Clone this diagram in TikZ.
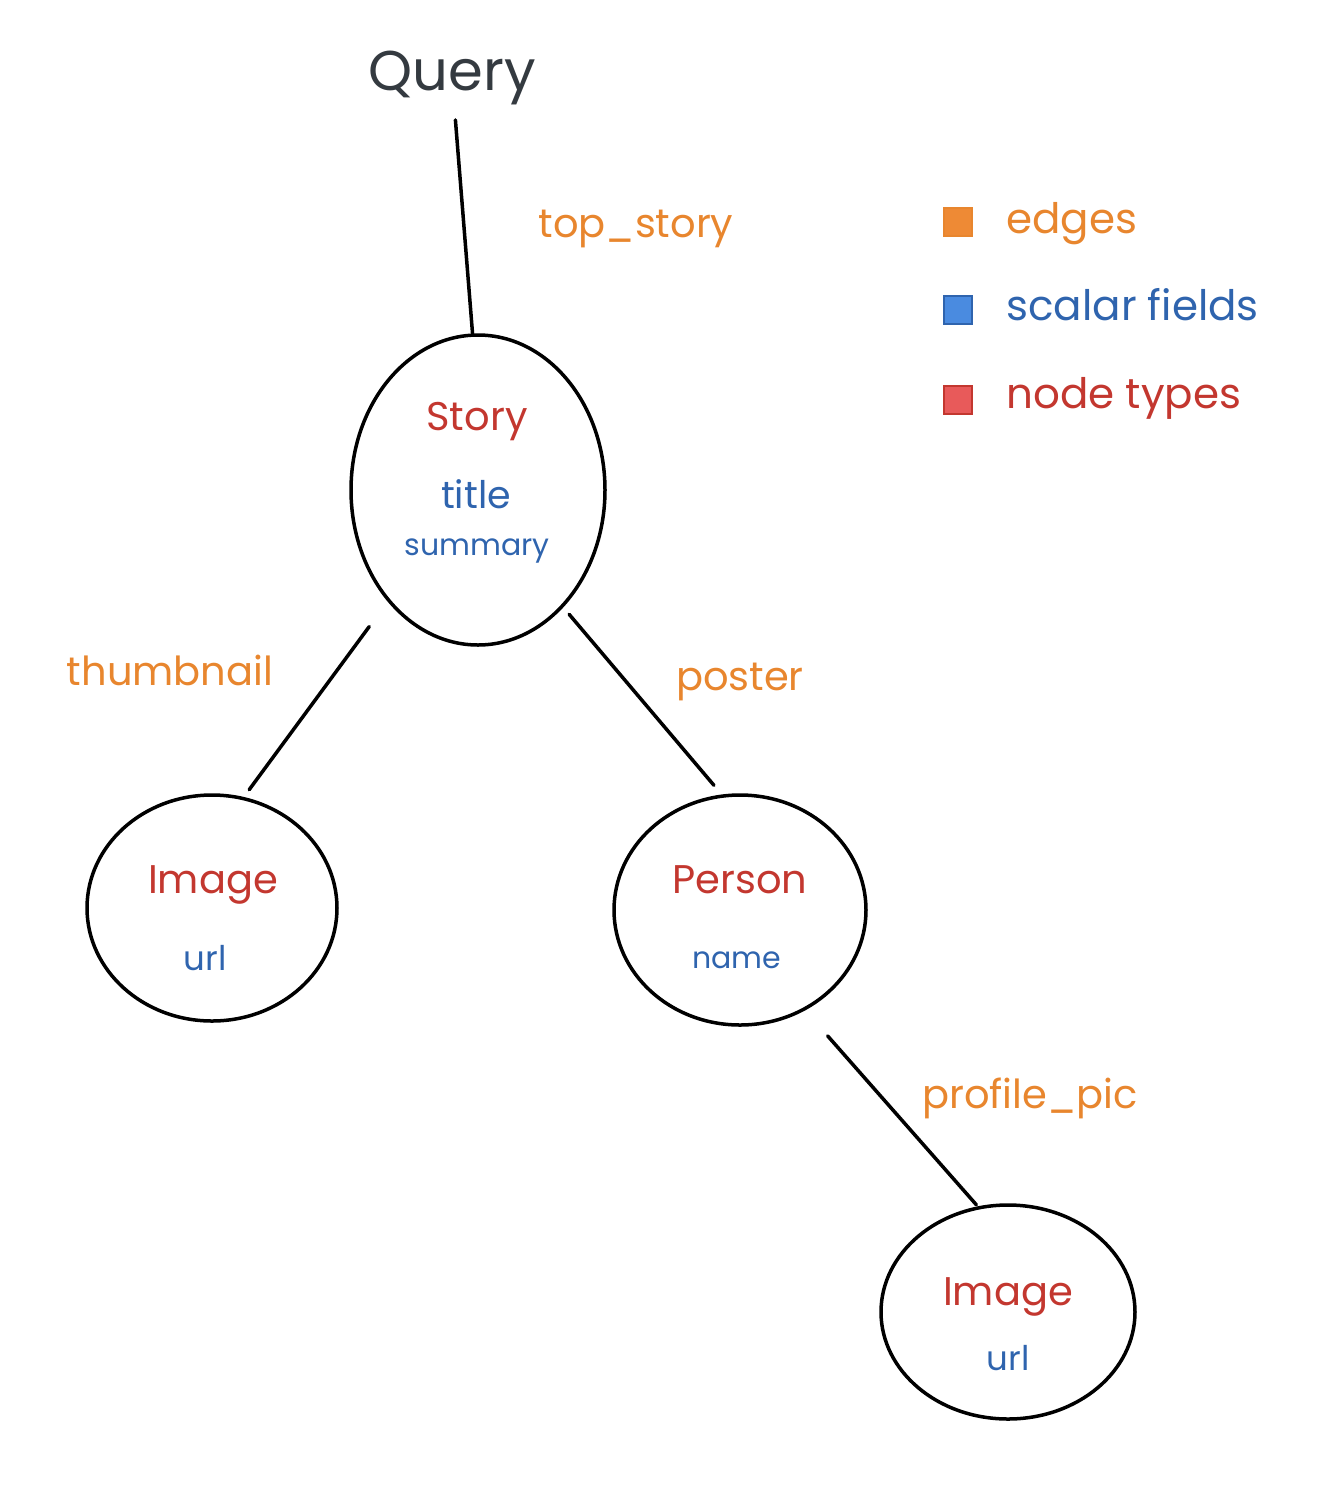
\documentclass[tikz,border=0pt]{standalone}
\usepackage{fontspec}
\setmainfont{Poppins}
\usetikzlibrary{shapes.geometric}
\definecolor{edgecol}{HTML}{E8862E}
\definecolor{fieldcol}{HTML}{2F64AE}
\definecolor{typecol}{HTML}{C3372F}
\definecolor{querycol}{HTML}{343A40}
\definecolor{edgefill}{HTML}{EE8A35}
\definecolor{fieldfill}{HTML}{4A8BE0}
\definecolor{typefill}{HTML}{E85A5A}
\begin{document}
\begin{tikzpicture}[x=1pt,y=-1pt,
  typenode/.style={draw=black,line width=3.5pt,ellipse,inner sep=0pt},
  edgeline/.style={line width=3.5pt,line cap=round},
  edgelabel/.style={anchor=base,text=edgecol,font=\fontsize{40}{48}\selectfont},
  typelabel/.style={anchor=base,text=typecol,font=\fontsize{40}{48}\selectfont},
  fieldlabel/.style={anchor=base,text=fieldcol,font=\fontsize{34}{40}\selectfont},
  legendbox/.style={minimum size=28pt,inner sep=0pt,line width=1.5pt},
  legendtext/.style={anchor=base west,font=\fontsize{42}{50}\selectfont}]
\useasboundingbox (0,0) rectangle (1340,1500);

\node[anchor=base,text=querycol,font=\fontsize{56}{64}\selectfont] (query) at (452,90) {Query};

\node[typenode,minimum width=254pt,minimum height=310pt] (story) at (478,490) {};
\node[typelabel] (storytype) at (477,430) {Story};
\node[fieldlabel,font=\fontsize{38}{44}\selectfont] (storytitle) at (476,508) {title};
\node[fieldlabel,font=\fontsize{30}{36}\selectfont] (storysummary) at (477,555) {summary};

\node[typenode,minimum width=250pt,minimum height=226pt] (thumbimage) at (212,908) {};
\node[typelabel] (thumbtype) at (213,893) {Image};
\node[fieldlabel] (thumburl) at (205,970) {url};

\node[typenode,minimum width=252pt,minimum height=230pt] (person) at (740,910) {};
\node[typelabel] (persontype) at (740,893) {Person};
\node[fieldlabel,font=\fontsize{30}{36}\selectfont] (personname) at (737,968) {name};

\node[typenode,minimum width=254pt,minimum height=214pt] (picimage) at (1008,1312) {};
\node[typelabel] (pictype) at (1008,1305) {Image};
\node[fieldlabel] (picurl) at (1008,1370) {url};

\draw[edgeline,shorten <=12pt] (query) -- (story.92);
\draw[edgeline,shorten <=31pt,shorten >=9pt] (story.231) -- (thumbimage.74);
\draw[edgeline,shorten <=9pt,shorten >=12pt] (story.306) -- (person.99);
\draw[edgeline,shorten <=34pt,shorten >=2pt] (person.303) -- (picimage.106);

\node[edgelabel] (topstorylabel) at (636,237) {top\_story};
\node[edgelabel] (thumblabel) at (170,685) {thumbnail};
\node[edgelabel] (posterlabel) at (740,690) {poster};
\node[edgelabel] (piclabel) at (1030,1108) {profile\_pic};

\node[legendbox,fill=edgefill,draw=edgecol] (edgesbox) at (958,222) {};
\node[legendbox,fill=fieldfill,draw=fieldcol] (fieldsbox) at (958,310) {};
\node[legendbox,fill=typefill,draw=typecol] (typesbox) at (958,400) {};
\node[legendtext,text=edgecol] (edgestext) at (1003,233) {edges};
\node[legendtext,text=fieldcol] (fieldstext) at (1003,320) {scalar fields};
\node[legendtext,text=typecol] (typestext) at (1003,408) {node types};
\end{tikzpicture}
\end{document}
